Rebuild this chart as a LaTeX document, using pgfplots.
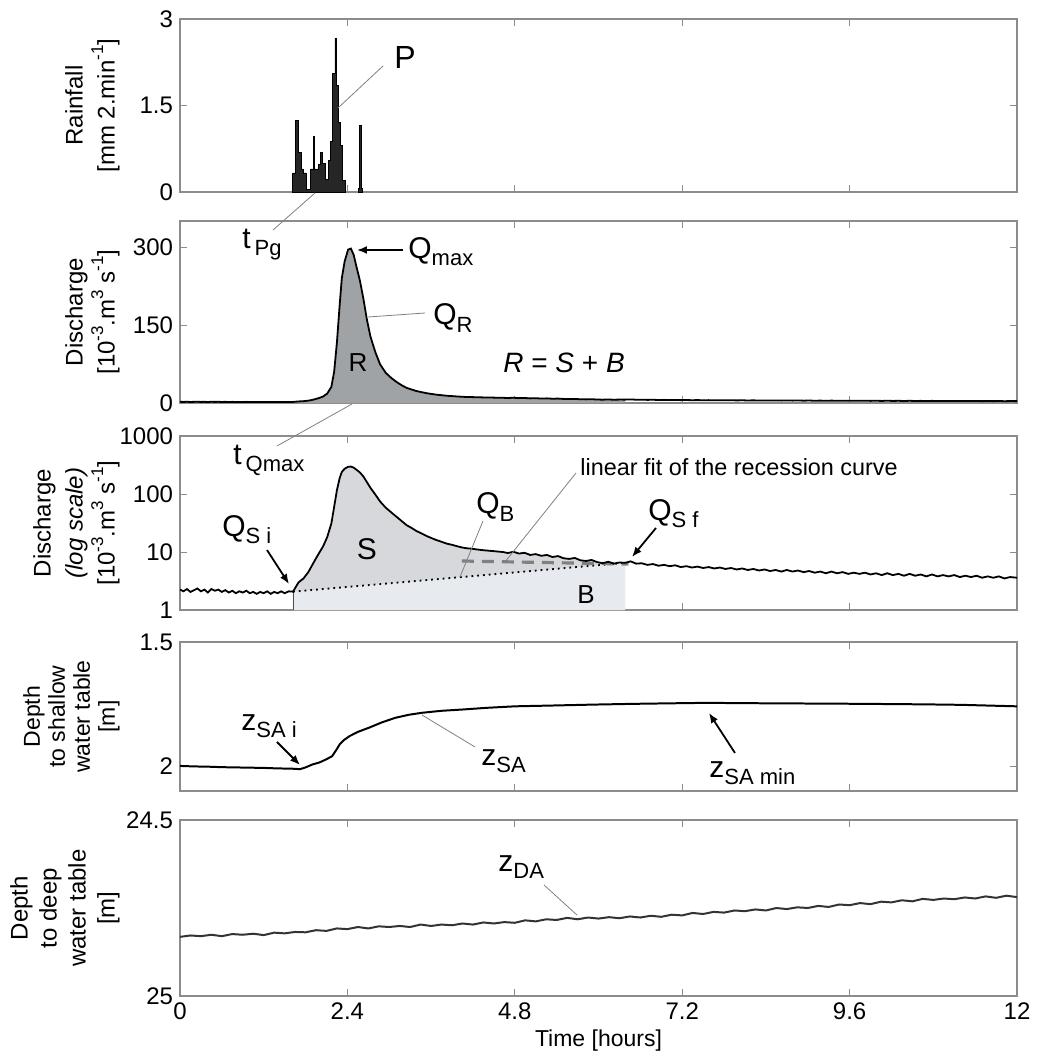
\documentclass[border=0pt]{standalone}
\usepackage{fontspec}
\setmainfont{Liberation Sans}
\usepackage{pgfplots}
\usepackage{pgfplotstable}
\pgfplotsset{compat=1.18}
\usetikzlibrary{arrows.meta}

\definecolor{framegray}{HTML}{8C8C8C}
\definecolor{Rfill}{HTML}{A0A3A6}
\definecolor{Sfill}{HTML}{D6D8DB}
\definecolor{Bfill}{HTML}{E7EBEF}

\newcommand\sub[2][11bp]{\raisebox{-0.45ex}{\fontsize{#1}{#1}\selectfont #2}}
\newcommand\sups[1]{\raisebox{0.9ex}{\fontsize{8.5bp}{8.5bp}\selectfont #1}}

\pgfplotstableread{
t Q
0.00 2.25
0.05 2.10
0.10 2.30
0.15 2.05
0.20 2.20
0.25 2.35
0.30 2.10
0.35 2.25
0.40 2.00
0.45 2.30
0.50 2.15
0.55 2.25
0.60 2.05
0.65 2.20
0.70 2.00
0.75 2.15
0.80 1.95
0.85 2.10
0.90 2.00
0.95 2.15
1.00 1.95
1.05 2.05
1.10 1.90
1.15 2.05
1.20 1.95
1.25 2.10
1.30 1.90
1.35 2.05
1.40 1.95
1.45 2.10
1.50 1.95
1.56 2.10
1.62 2.07
1.70 3.0
1.77 3.5
1.84 4.5
1.91 6.4
1.98 9.0
2.05 12.4
2.11 18
2.17 31
2.21 60
2.25 117
2.29 190
2.32 240
2.36 272
2.41 295
2.45 297
2.49 285
2.53 262
2.58 235
2.63 200
2.68 160
2.73 128
2.80 98
2.87 74
2.95 58
3.03 48
3.11 40
3.18 34
3.25 29
3.32 26
3.39 23
3.46 21
3.53 19
3.60 17.5
3.68 16
3.75 15
3.82 14
3.90 13.3
3.97 12.6
4.04 12.0
4.11 11.6
4.18 11.4
4.25 11.1
4.33 10.8
4.40 10.6
4.48 10.4
4.55 10.2
4.63 10.0
4.70 9.6
4.78 10.1
4.86 9.4
4.94 9.7
5.02 8.9
5.10 9.2
5.18 8.6
5.26 8.9
5.34 8.2
5.42 8.5
5.50 7.8
5.58 7.6
5.66 7.9
5.74 7.2
5.82 7.0
5.90 7.3
5.98 6.7
6.06 6.4
6.14 6.8
6.22 6.3
6.30 6.6
6.38 6.5
6.46 6.9
6.54 6.3
6.62 6.4
6.70 6.0
6.78 6.2
6.86 5.8
6.94 6.0
7.02 5.7
7.10 5.9
7.18 5.5
7.26 5.7
7.34 5.4
7.42 5.6
7.50 5.3
7.58 5.5
7.66 5.2
7.74 5.4
7.82 5.1
7.90 5.3
7.98 5.0
8.06 5.2
8.14 4.9
8.22 5.1
8.30 4.8
8.38 5.0
8.46 4.7
8.54 4.9
8.62 4.6
8.70 4.9
8.78 4.6
8.86 4.8
8.94 4.5
9.02 4.7
9.10 4.4
9.18 4.6
9.26 4.3
9.34 4.6
9.42 4.3
9.50 4.5
9.58 4.2
9.66 4.4
9.74 4.2
9.82 4.4
9.90 4.1
9.98 4.3
10.06 4.0
10.14 4.3
10.22 4.0
10.30 4.2
10.38 3.9
10.46 4.2
10.54 3.9
10.62 4.1
10.70 3.8
10.78 4.1
10.86 3.8
10.94 4.0
11.02 3.8
11.10 4.0
11.18 3.7
11.26 3.9
11.34 3.7
11.42 3.9
11.50 3.6
11.58 3.8
11.66 3.6
11.74 3.8
11.82 3.5
11.90 3.7
12.00 3.6
}\Qdata

\pgfplotstableread{
t z
0.00 1.999
0.20 2.001
0.40 2.002
0.60 2.004
0.80 2.005
1.00 2.006
1.20 2.007
1.40 2.009
1.60 2.010
1.72 2.012
1.80 2.005
1.90 1.993
2.00 1.985
2.10 1.972
2.18 1.960
2.24 1.935
2.29 1.912
2.35 1.895
2.43 1.879
2.55 1.862
2.71 1.845
2.90 1.823
3.09 1.805
3.28 1.793
3.47 1.785
3.75 1.777
4.04 1.772
4.40 1.765
4.80 1.759
5.30 1.756
5.93 1.752
6.50 1.749
7.00 1.747
7.54 1.745
8.00 1.746
8.50 1.747
9.24 1.748
9.80 1.749
10.66 1.751
11.20 1.753
11.60 1.756
12.00 1.759
}\SAdata

\pgfplotstableread{
t z
0.00 24.832
0.15 24.828
0.30 24.830
0.45 24.826
0.60 24.830
0.75 24.824
0.90 24.826
1.05 24.823
1.20 24.827
1.35 24.820
1.50 24.822
1.65 24.818
1.80 24.819
1.95 24.813
2.10 24.815
2.25 24.808
2.40 24.810
2.55 24.804
2.70 24.808
2.85 24.802
3.00 24.804
3.15 24.801
3.30 24.804
3.45 24.797
3.60 24.801
3.75 24.797
3.90 24.799
4.05 24.794
4.20 24.797
4.35 24.791
4.50 24.794
4.65 24.790
4.80 24.792
4.95 24.785
5.10 24.788
5.25 24.782
5.40 24.784
5.55 24.778
5.70 24.782
5.85 24.777
6.00 24.780
6.15 24.776
6.30 24.779
6.45 24.774
6.60 24.777
6.75 24.772
6.90 24.775
7.05 24.769
7.20 24.771
7.35 24.764
7.50 24.767
7.65 24.761
7.80 24.763
7.95 24.757
8.10 24.759
8.25 24.754
8.40 24.757
8.55 24.750
8.70 24.753
8.85 24.748
9.00 24.750
9.15 24.744
9.30 24.747
9.45 24.740
9.60 24.742
9.75 24.736
9.90 24.739
10.05 24.732
10.20 24.734
10.35 24.728
10.50 24.731
10.65 24.724
10.80 24.727
10.95 24.723
11.10 24.725
11.25 24.720
11.40 24.723
11.55 24.717
11.70 24.721
11.85 24.715
12.00 24.719
}\DAdata

\pgfplotsset{
 panel/.style={
  scale only axis, width=418.5bp, xmin=0, xmax=12,
  xtick={0,2.4,4.8,7.2,9.6,12}, xticklabels={},
  axis line style={framegray, line width=0.6pt},
  tick style={framegray, line width=0.5pt},
  major tick length=3.5bp, tick align=inside,
  tick label style={font=\fontsize{12bp}{14bp}\selectfont},
  /pgf/number format/assume math mode=true,
  ylabel style={font=\fontsize{12bp}{16bp}\selectfont, align=center,
    at={(axis description cs:-0.0717,0.5)}, anchor=south, inner sep=0pt},
  anchor=north west,
 }
}

\begin{document}
\begin{tikzpicture}
\path (0,0) rectangle (514.5bp,-529.5bp);

% Panel 1: rainfall
\begin{axis}[panel, at={(90bp,-9.5bp)}, height=86.5bp,
  ymin=0, ymax=3, ytick={0,1.5,3}, yticklabels={0,1.5,3},
  ylabel={Rainfall\\{}[mm 2.min\sups{-1}]}]
\addplot[const plot, fill=black!85, draw=black, line width=0.4pt] coordinates {
(1.615,0.33) (1.649,1.24) (1.697,0.69) (1.735,0.40) (1.768,0.33) (1.806,0.05)
(1.873,0.40) (1.912,0.97) (1.931,0.40) (1.983,0.47) (2.017,0.69) (2.045,0.49)
(2.079,0.21) (2.127,0.55) (2.160,0.88) (2.189,2.06) (2.222,2.67) (2.237,1.84)
(2.275,1.21) (2.303,0.80) (2.332,0.20) (2.375,0)} \closedcycle;
\addplot[const plot, fill=black!85, draw=black, line width=0.4pt] coordinates {
(2.557,0.07) (2.571,1.15) (2.595,0.07) (2.609,0)} \closedcycle;
\end{axis}

% Panel 2: discharge linear
\begin{axis}[panel, at={(90bp,-110.5bp)}, height=91bp,
  ymin=0, ymax=350, ytick={0,150,300}, yticklabels={0,150,300},
  ylabel={Discharge\\{}[10\sups{-3}.m\sups{3} s\sups{-1}]}]
\addplot[fill=Rfill, draw=none, restrict x to domain=1.62:6.38] table[x=t,y=Q] {\Qdata} \closedcycle;
\addplot[black, line width=0.9pt] table[x=t,y=Q] {\Qdata};
\end{axis}

% Panel 3: discharge log
\begin{axis}[panel, at={(90bp,-218bp)}, height=87bp,
  ymode=log, ymin=1, ymax=1000, ytick={1,10,100,1000},
  yticklabels={1,10,100,1000}, yminorticks=false,
  ylabel={Discharge\\\textit{(log scale)}\\{}[10\sups{-3}.m\sups{3} s\sups{-1}]}]
\addplot[fill=Sfill, draw=none, restrict x to domain=1.62:6.38] table[x=t,y=Q] {\Qdata} \closedcycle;
\addplot[fill=Bfill, draw=none] coordinates {(1.62,2.07) (6.38,6.5)} \closedcycle;
\addplot[black!70, line width=0.4pt] coordinates {(1.62,1) (1.62,2.07)};
\addplot[black, dotted, line width=0.9pt] coordinates {(1.62,2.07) (6.38,6.5)};
\addplot[gray, line width=1.6pt, dash pattern=on 6bp off 4bp] coordinates {(4.04,7.0) (6.43,6.2)};
\addplot[black, line width=0.9pt] table[x=t,y=Q] {\Qdata};
\end{axis}

% Panel 4: shallow water table
\begin{axis}[panel, at={(90bp,-321bp)}, height=74.5bp,
  y dir=reverse, ymin=1.5, ymax=2.1, ytick={1.5,2}, yticklabels={1.5,2},
  ylabel style={font=\fontsize{11.5bp}{12.5bp}\selectfont},
  ylabel={Depth\\to shallow\\water table\\{}[m]}]
\addplot[black, line width=1pt] table[x=t,y=z] {\SAdata};
\end{axis}

% Panel 5: deep water table
\begin{axis}[panel, at={(90bp,-410bp)}, height=88bp,
  y dir=reverse, ymin=24.5, ymax=25, ytick={24.5,25}, yticklabels={24.5,25},
  xticklabels={0,2.4,4.8,7.2,9.6,12},
  ylabel style={font=\fontsize{12bp}{14.5bp}\selectfont},
  ylabel={Depth\\to deep\\water table\\{}[m]},
  xlabel={Time [hours]},
  xlabel style={font=\fontsize{11.5bp}{13bp}\selectfont, yshift=2bp}]
\addplot[black!80, line width=1pt] table[x=t,y=z] {\DAdata};
\end{axis}

% Annotations (pixel units)
\begin{scope}[x=0.5bp, y=-0.5bp]
\tikzset{lead/.style={gray, line width=0.4pt}, arr/.style={-{Latex[length=5bp,width=4bp]}, black, line width=0.9pt},
  big/.style={font=\fontsize{15bp}{18bp}\selectfont, inner sep=0pt}}
% panel 1
\node[big, font=\fontsize{16bp}{18bp}\selectfont] at (405,57) {P};
\draw[lead] (383,66) -- (338,108);
\node[big, anchor=west] at (242,245) {t\hspace{2bp}\sub{Pg}};
\draw[lead] (273,230) -- (315,193);
% panel 2
\draw[arr] (403,250) -- (357,250);
\node[big, anchor=west] at (408,252) {Q\sub{max}};
\node[big, anchor=west] at (433,318) {Q\sub{R}};
\draw[lead] (425,313) -- (368,317);
\node[big, font=\fontsize{13bp}{15bp}\selectfont] at (358,363) {R};
\node[big, font=\fontsize{14bp}{16bp}\selectfont] at (564,363) {\textit{R} = \textit{S} + \textit{B}};
\node[big, anchor=west] at (233,460) {t\hspace{2bp}\sub{Qmax}};
\draw[lead] (277,446) -- (352,404);
% panel 3
\node[big, anchor=west] at (222,530) {Q\sub{S i}};
\draw[arr] (267,550) -- (289,584);
\node[big] at (367,549) {S};
\node[big, anchor=west] at (476,507) {Q\sub{B}};
\draw[lead] (483,521) -- (460,577);
\node[font=\fontsize{11.7bp}{14bp}\selectfont, anchor=west, inner sep=0pt] at (580,467) {linear fit of the recession curve};
\draw[lead] (576,473) -- (505,562);
\node[big, anchor=west] at (648,514) {Q\sub{S f}};
\draw[arr] (656,528) -- (632,557);
\node[big, font=\fontsize{13bp}{15bp}\selectfont] at (586,595) {B};
% panel 4
\node[big, anchor=west] at (241,726) {z\sub{SA i}};
\draw[arr] (277,742) -- (300,765);
\node[big, anchor=west] at (481,761) {z\sub{SA}};
\draw[lead] (475,747) -- (422,715);
\node[big, anchor=west] at (709,773) {z\sub{SA min}};
\draw[arr] (735,753) -- (709,713);
% panel 5
\node[big, anchor=west] at (498,867) {z\sub{DA}};
\draw[lead] (544,885) -- (577,915);
\end{scope}
\end{tikzpicture}
\end{document}
